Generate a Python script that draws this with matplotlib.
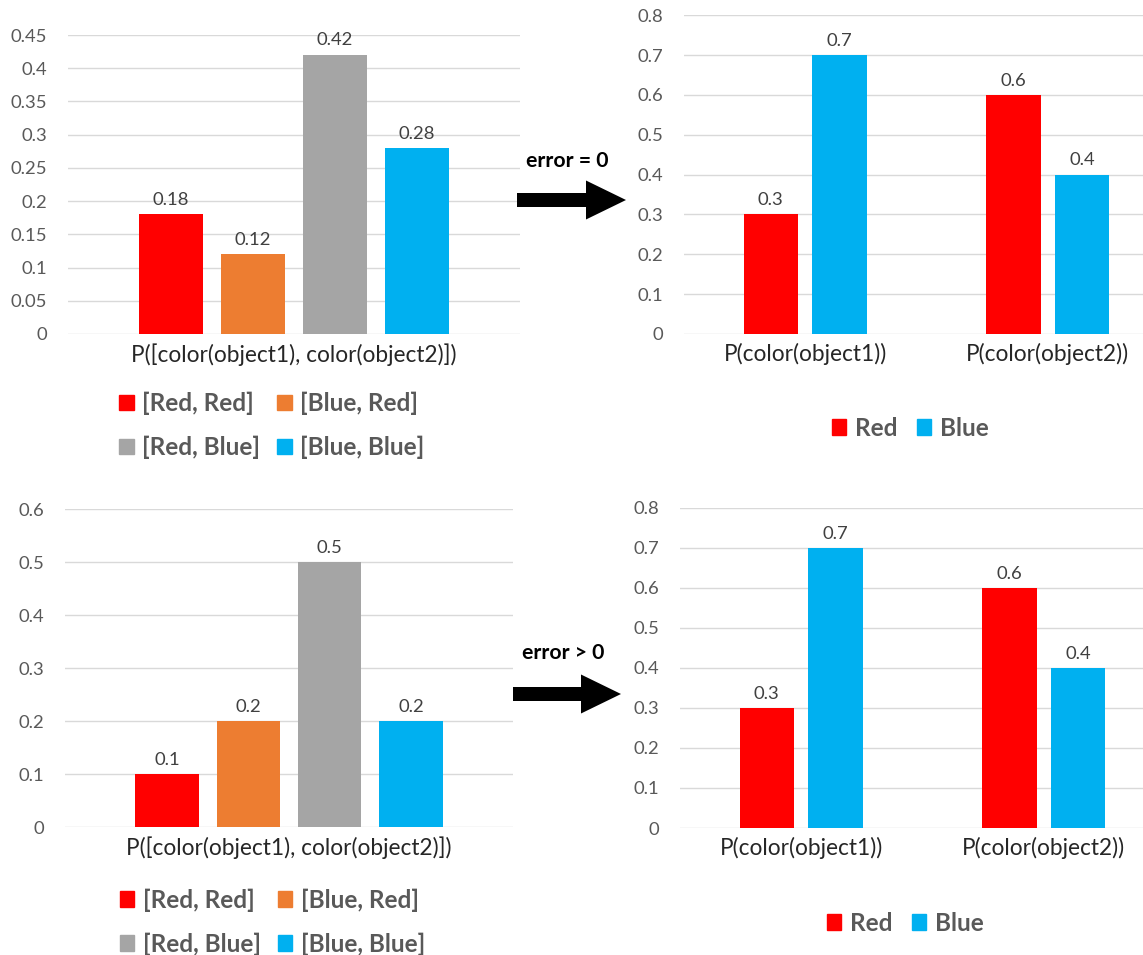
import matplotlib
matplotlib.use('Agg')
import matplotlib.pyplot as plt
from matplotlib.patches import FancyArrow, Patch
import numpy as np

plt.rcParams['font.family'] = ['Lato', 'DejaVu Sans']

# joint distribution (left panels)
joint_labels = ['[Red, Red]', '[Blue, Red]', '[Red, Blue]', '[Blue, Blue]']
joint_colors = ['#FF0000', '#ED7D31', '#A5A5A5', '#00B0F0']
joint_top = [0.18, 0.12, 0.42, 0.28]
joint_bottom = [0.1, 0.2, 0.5, 0.2]
joint_xlabel = 'P([color(object1), color(object2)])'

# marginals (right panels)
marg_cats = ['P(color(object1))', 'P(color(object2))']
marg_series = ['Red', 'Blue']
marg_colors = ['#FF0000', '#00B0F0']
marg_red_top = [0.3, 0.6]
marg_blue_top = [0.7, 0.4]
marg_red_bottom = [0.3, 0.6]
marg_blue_bottom = [0.7, 0.4]

arrow_texts = ['error = 0', 'error > 0']

W, H = 1143, 955
TXT = '#595959'
GRID = '#D9D9D9'


def px_axes(fig, x0, x1, ytop, ybot):
    return fig.add_axes([x0 / W, 1 - ybot / H, (x1 - x0) / W, (ybot - ytop) / H])


def style_axes(ax, ymax, step):
    ticks = np.arange(0, ymax + step / 2, step)
    ax.set_ylim(0, ymax)
    ax.set_yticks(ticks)
    ax.set_yticklabels([f'{round(t, 2):g}' for t in ticks])
    for s in ax.spines.values():
        s.set_visible(False)
    ax.yaxis.grid(True, color=GRID, lw=1.0)
    ax.set_axisbelow(True)
    ax.tick_params(axis='y', length=0, pad=15, labelsize=13.3, labelcolor=TXT)
    ax.tick_params(axis='x', length=0, pad=6.5, labelsize=16.3, labelcolor='#262626')


def label_bars(ax, bars, values):
    for b, v in zip(bars, values):
        ax.annotate(f'{v:g}', (b.get_x() + b.get_width() / 2, v),
                    xytext=(0, 6.8), textcoords='offset points',
                    ha='center', va='baseline', fontsize=13.3, color='#404040')


def make_legend(ax, fig, handles, labels, xy, spacing, colspace):
    leg = ax.legend(handles, labels, ncol=2, loc='center',
                    bbox_to_anchor=(xy[0] / W, 1 - xy[1] / H),
                    bbox_transform=fig.transFigure, frameon=False,
                    prop={'weight': 'bold', 'size': 17.5},
                    handlelength=0.6, handleheight=0.6, handletextpad=0.35,
                    columnspacing=colspace, labelspacing=spacing, borderpad=0)
    for t in leg.get_texts():
        t.set_color(TXT)
    return leg


def joint_panel(fig, box, values, ymax, step, legend_xy):
    ax = px_axes(fig, *box)
    style_axes(ax, ymax, step)
    step_x = 0.1814
    width = 0.1416
    for i, (v, c) in enumerate(zip(values, joint_colors)):
        b = ax.bar((i - 1.5) * step_x, v, width=width, color=c, linewidth=0)
        label_bars(ax, b, [v])
    ax.set_xlim(-0.5, 0.5)
    ax.set_xticks([0])
    ax.set_xticklabels([joint_xlabel])
    order = [0, 2, 1, 3]
    handles = [Patch(color=joint_colors[i]) for i in order]
    labels = [joint_labels[i] for i in order]
    make_legend(ax, fig, handles, labels, legend_xy, 0.85, 0.7)
    return ax


def marg_panel(fig, box, red, blue, legend_xy):
    ax = px_axes(fig, *box)
    style_axes(ax, 0.8, 0.1)
    x = np.arange(len(marg_cats))
    width = 0.225
    off = 0.142
    b1 = ax.bar(x - off, red, width=width, color=marg_colors[0], linewidth=0)
    b2 = ax.bar(x + off, blue, width=width, color=marg_colors[1], linewidth=0)
    label_bars(ax, b1, red)
    label_bars(ax, b2, blue)
    ax.set_xlim(-0.5, 1.5)
    ax.set_xticks(x)
    ax.set_xticklabels(marg_cats)
    handles = [Patch(color=c) for c in marg_colors]
    make_legend(ax, fig, handles, marg_series, legend_xy, 0.5, 0.8)
    return ax


def arrow(fig, x0, x1, yc, text, tx, ty):
    head_len = 40
    a = FancyArrow(x0 / W, 1 - yc / H, (x1 - x0) / W, 0,
                   width=14 / H, head_width=39 / H, head_length=head_len / W,
                   length_includes_head=True, color='black', lw=0,
                   transform=fig.transFigure)
    fig.add_artist(a)
    fig.text(tx / W, 1 - ty / H, text, ha='center', va='center',
             fontsize=15.3, fontweight='bold', color='black')


fig = plt.figure(figsize=(W / 100, H / 100), dpi=100)

joint_panel(fig, (68, 520, 35, 334), joint_top, 0.45, 0.05, (272, 425.5))
marg_panel(fig, (684, 1169, 15.3, 334), marg_red_top, marg_blue_top, (910, 428))
joint_panel(fig, (65, 513, 509.3, 827), joint_bottom, 0.6, 0.1, (272.5, 922))
marg_panel(fig, (680, 1165, 508, 828), marg_red_bottom, marg_blue_bottom, (905, 923))

arrow(fig, 517, 626, 200, arrow_texts[0], 567.5, 161)
arrow(fig, 513, 621, 694, arrow_texts[1], 563, 653)

fig.savefig('out.png', dpi=100)
